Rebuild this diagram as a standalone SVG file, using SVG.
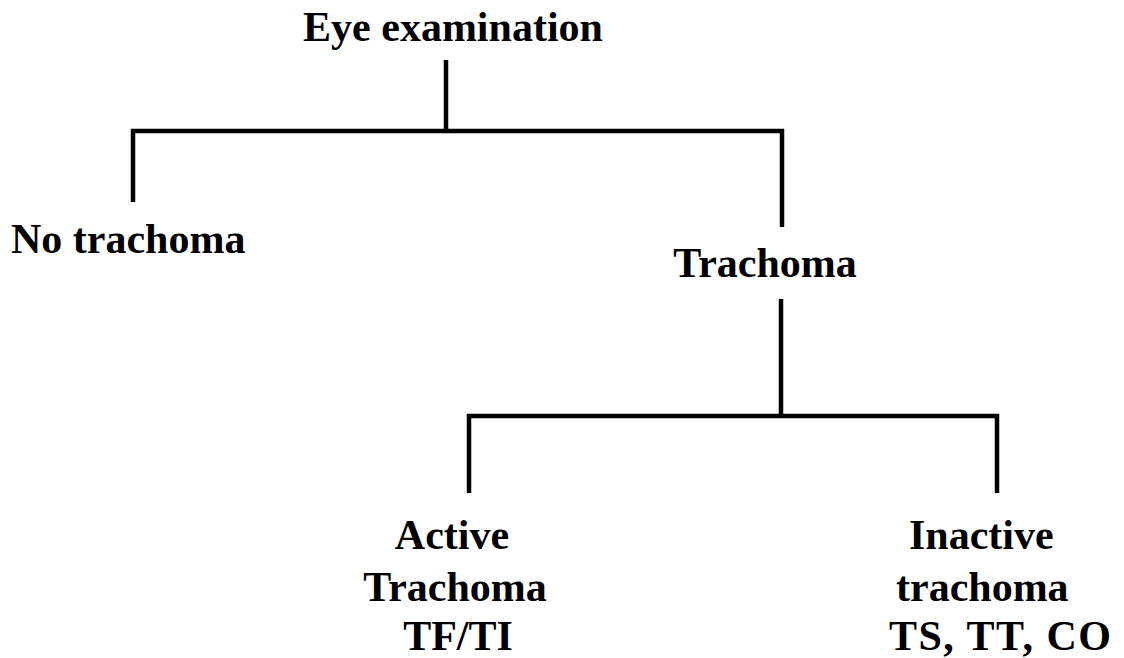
<svg xmlns="http://www.w3.org/2000/svg" width="1124" height="658" viewBox="0 0 1124 658">
<style>
text{font-family:"Liberation Serif","Times New Roman",serif;font-weight:bold;font-size:42px;fill:#000}
.c{text-anchor:middle}
.ln{stroke:#000;stroke-width:4.5;fill:none;stroke-linecap:butt}
</style>
<rect width="1124" height="658" fill="#fff"/>
<g id="connectors">
<line class="ln" x1="446" y1="60" x2="446" y2="131"/>
<line class="ln" x1="131" y1="131" x2="784" y2="131"/>
<line class="ln" x1="133" y1="129" x2="133" y2="202"/>
<line class="ln" x1="782" y1="129" x2="782" y2="227"/>
<line class="ln" x1="781" y1="299" x2="781" y2="414"/>
<line class="ln" x1="467" y1="416" x2="999" y2="416"/>
<line class="ln" x1="469" y1="414" x2="469" y2="493"/>
<line class="ln" x1="997" y1="414" x2="997" y2="493"/>
</g>
<g id="eye-examination"><text class="c" x="453" y="41">Eye examination</text></g>
<g id="no-trachoma"><text x="11" y="253">No trachoma</text></g>
<g id="trachoma"><text class="c" x="765" y="277">Trachoma</text></g>
<g id="active-trachoma">
<text class="c" x="452" y="549">Active</text>
<text class="c" x="455" y="601">Trachoma</text>
<text class="c" x="458" y="650">TF/TI</text>
</g>
<g id="inactive-trachoma">
<text x="909" y="549">Inactive</text>
<text x="896" y="601">trachoma</text>
<text x="889" y="650" textLength="222" lengthAdjust="spacing">TS, TT, CO</text>
</g>
</svg>
